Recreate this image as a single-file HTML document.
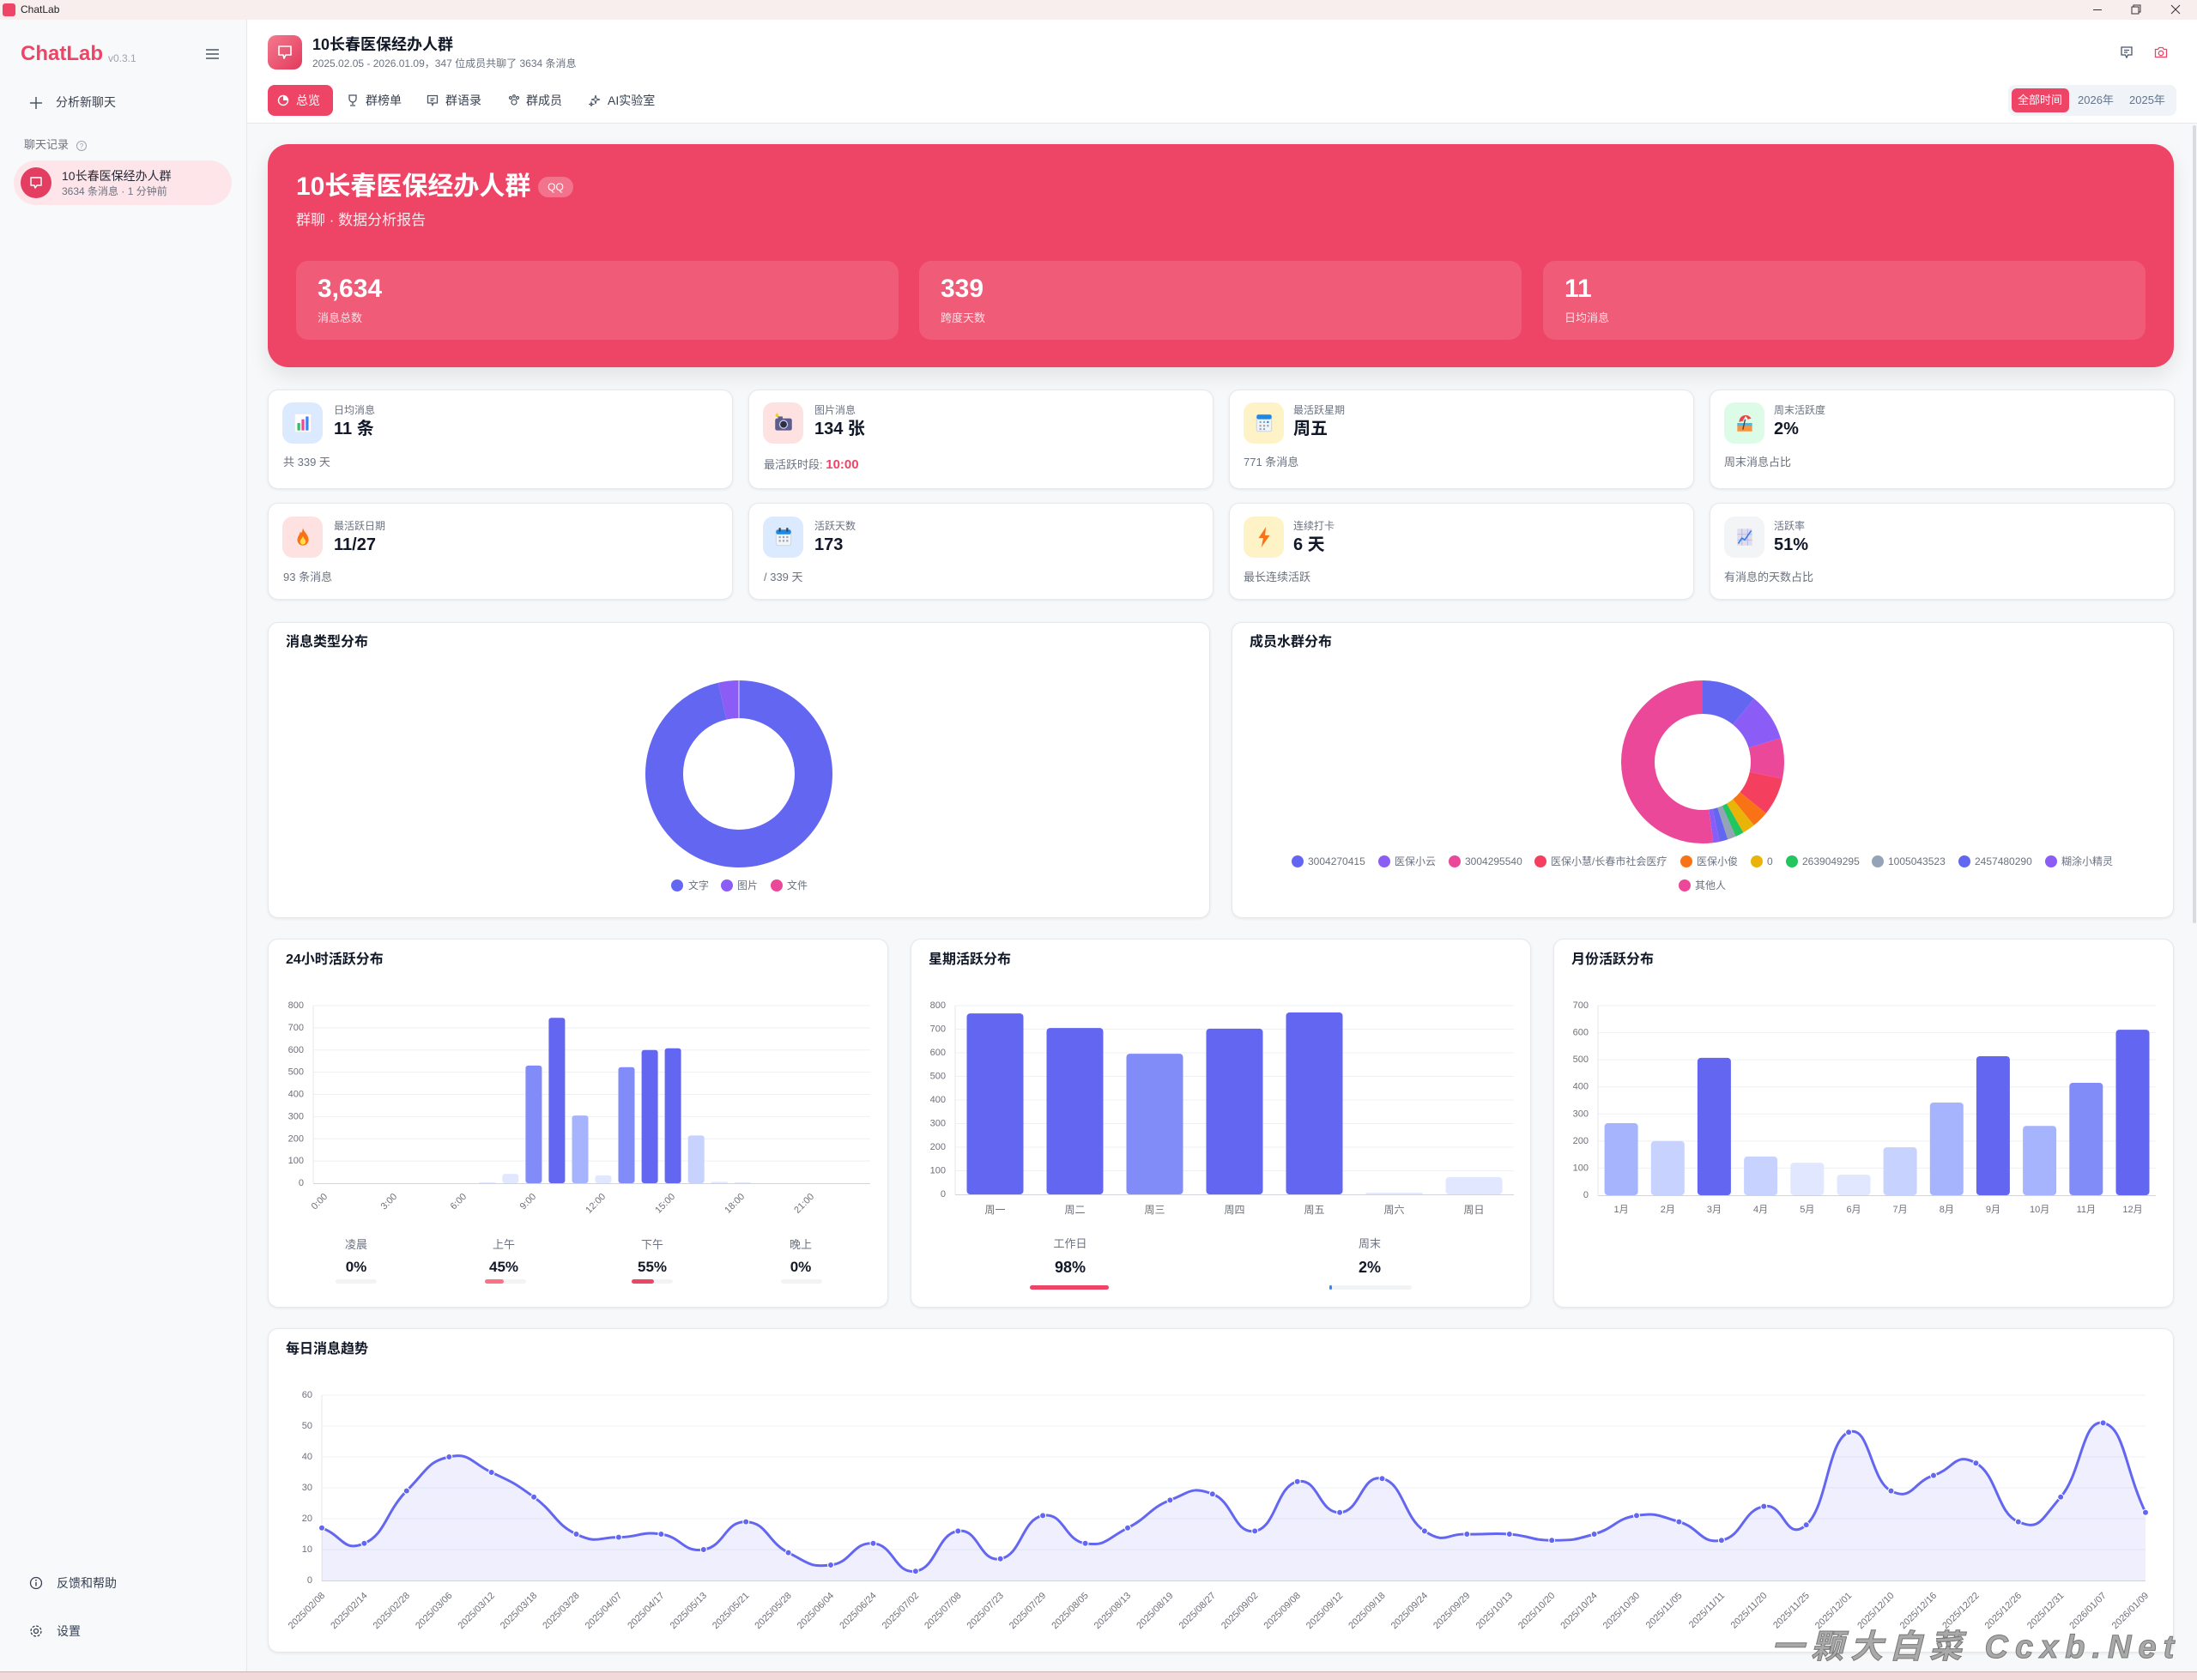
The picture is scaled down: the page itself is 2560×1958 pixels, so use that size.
<!DOCTYPE html>
<html><head><meta charset="utf-8">
<style>
*{margin:0;padding:0;box-sizing:border-box}
body{width:2560px;height:1958px;position:relative;overflow:hidden;background:#f7f8fa;font-family:"Liberation Sans","Noto Sans CJK SC",sans-serif;color:#111827}
.a{position:absolute;white-space:nowrap;line-height:1}
.card{position:absolute;background:#fff;border:1px solid #e6e8eb;border-radius:12px;box-shadow:0 1px 3px rgba(0,0,0,.07)}
.ib{position:absolute;width:47px;height:48px;border-radius:12px;display:flex;align-items:center;justify-content:center}
.lbl{font-size:12px;color:#6b7280}
.val{font-size:20px;font-weight:700;color:#111827}
.sub{font-size:13px;color:#6b7280}
.ct{font-size:16px;font-weight:700;color:#111827}
svg text{font-family:"Liberation Sans","Noto Sans CJK SC",sans-serif}
</style></head><body>

<!-- title bar -->
<div class="a" style="left:0;top:0;width:2560px;height:23px;background:#f8eeee"></div>
<div class="a" style="left:3px;top:4px;width:15px;height:15px;border-radius:3px;background:#ee4566"></div>
<div class="a" style="left:24px;top:5px;font-size:12px;color:#222">ChatLab</div>
<svg class="a" style="left:2420px;top:0" width="140" height="23">
<line x1="19" y1="11.5" x2="29" y2="11.5" stroke="#333" stroke-width="1"/>
<rect x="64" y="8" width="8" height="8" fill="none" stroke="#333" stroke-width="1"/>
<path d="M66,8 V6 H74 V14 H72" fill="none" stroke="#333" stroke-width="1"/>
<path d="M110,6 L120,16 M120,6 L110,16" stroke="#333" stroke-width="1"/>
</svg>

<!-- sidebar -->
<div class="a" style="left:0;top:23px;width:288px;height:1925px;background:#f8f9fb;border-right:1px solid #e8e9ec"></div>
<div class="a" style="left:24px;top:51px;font-size:24px;font-weight:700;color:#ee4566">ChatLab</div>
<div class="a" style="left:126px;top:62px;font-size:12px;color:#9ca3af">v0.3.1</div>
<svg class="a" style="left:238px;top:55px" width="20" height="16"><path d="M2,3H17M2,8H17M2,13H17" stroke="#4b5563" stroke-width="1.6"/></svg>
<svg class="a" style="left:34px;top:112px" width="16" height="16"><path d="M8,1V15M1,8H15" stroke="#4b5563" stroke-width="1.5"/></svg>
<div class="a" style="left:65px;top:112px;font-size:14px;color:#374151">分析新聊天</div>
<div class="a" style="left:28px;top:162px;font-size:13px;color:#6b7280">聊天记录</div>
<svg class="a" style="left:88px;top:163px" width="14" height="14"><circle cx="7" cy="7" r="5.5" fill="none" stroke="#9ca3af" stroke-width="1"/><text x="7" y="10" font-size="8" text-anchor="middle" fill="#9ca3af">?</text></svg>
<div class="a" style="left:16px;top:187px;width:254px;height:52px;border-radius:26px;background:#fde5e9"></div>
<div class="a" style="left:24px;top:195px;width:36px;height:36px;border-radius:50%;background:#e33d62"></div>
<svg class="a" style="left:33px;top:204px" width="18" height="18"><path d="M3,3H15V12H10L8,15L7,12H3Z" fill="none" stroke="#fff" stroke-width="1.5" stroke-linejoin="round"/></svg>
<div class="a" style="left:72px;top:198px;font-size:14px;color:#1f2937">10长春医保经办人群</div>
<div class="a" style="left:72px;top:217px;font-size:12px;color:#6b7280">3634 条消息 · 1 分钟前</div>
<svg class="a" style="left:34px;top:1837px" width="16" height="16"><circle cx="8" cy="8" r="6.5" fill="none" stroke="#374151" stroke-width="1.3"/><path d="M8,7V11.5" stroke="#374151" stroke-width="1.4"/><circle cx="8" cy="4.8" r="0.9" fill="#374151"/></svg>
<div class="a" style="left:66px;top:1838px;font-size:14px;color:#374151">反馈和帮助</div>
<svg class="a" style="left:34px;top:1893px" width="16" height="16"><circle cx="8" cy="8" r="2.5" fill="none" stroke="#374151" stroke-width="1.3"/><circle cx="8" cy="8" r="6" fill="none" stroke="#374151" stroke-width="1.3" stroke-dasharray="3 1.7"/></svg>
<div class="a" style="left:66px;top:1894px;font-size:14px;color:#374151">设置</div>

<!-- header -->
<div class="a" style="left:288px;top:23px;width:2272px;height:121px;background:#fff;border-bottom:1px solid #e5e7eb"></div>
<div class="a" style="left:312px;top:41px;width:40px;height:40px;border-radius:10px;background:linear-gradient(135deg,#f47a8f,#e23a5c)"></div>
<svg class="a" style="left:322px;top:51px" width="20" height="20"><path d="M3,3H17V13H11L9,17L8,13H3Z" fill="none" stroke="#fff" stroke-width="1.6" stroke-linejoin="round"/></svg>
<div class="a" style="left:364px;top:43px;font-size:18px;font-weight:700;color:#111827">10长春医保经办人群</div>
<div class="a" style="left:364px;top:68px;font-size:12px;color:#6b7280">2025.02.05 - 2026.01.09，347 位成员共聊了 3634 条消息</div>
<div class="a" style="left:312px;top:99px;width:76px;height:36px;border-radius:8px;background:#ee4566"></div>
<svg class="a" style="left:323px;top:110px" width="14" height="14"><circle cx="7" cy="7" r="5.5" fill="none" stroke="#fff" stroke-width="1.4"/><path d="M7,7V1.5A5.5,5.5 0 0 1 12.5,7Z" fill="#fff"/></svg>
<div class="a" style="left:345px;top:110px;font-size:14px;color:#fff">总览</div>
<svg class="a" style="left:404px;top:110px" width="14" height="14"><path d="M3,1H11V5A4,4 0 0 1 3,5Z M7,9V12 M4,13H10" fill="none" stroke="#4b5563" stroke-width="1.3"/></svg>
<div class="a" style="left:426px;top:110px;font-size:14px;color:#374151">群榜单</div>
<svg class="a" style="left:497px;top:110px" width="14" height="14"><path d="M1.5,1.5H12.5V10H8L7,12.5L6,10H1.5Z M4.5,5H9.5 M4.5,7.3H8" fill="none" stroke="#4b5563" stroke-width="1.3"/></svg>
<div class="a" style="left:519px;top:110px;font-size:14px;color:#374151">群语录</div>
<svg class="a" style="left:592px;top:110px" width="14" height="14"><circle cx="7" cy="9" r="3" fill="none" stroke="#4b5563" stroke-width="1.2"/><circle cx="3" cy="4" r="1.5" fill="none" stroke="#4b5563" stroke-width="1.2"/><circle cx="11" cy="4" r="1.5" fill="none" stroke="#4b5563" stroke-width="1.2"/><circle cx="7" cy="2" r="1.3" fill="none" stroke="#4b5563" stroke-width="1.2"/></svg>
<div class="a" style="left:613px;top:110px;font-size:14px;color:#374151">群成员</div>
<svg class="a" style="left:686px;top:110px" width="14" height="14"><path d="M8,1L9,5L13,6L9,7L8,11L7,7L3,6L7,5Z M3,9L3.6,11L5.5,11.5L3.6,12L3,14L2.4,12L0.5,11.5L2.4,11Z" fill="none" stroke="#4b5563" stroke-width="1"/></svg>
<div class="a" style="left:708px;top:110px;font-size:14px;color:#374151">AI实验室</div>
<svg class="a" style="left:2470px;top:53px" width="16" height="16"><path d="M2,2H14V11H9.5L8,14L6.5,11H2Z M5,5.5H11 M5,8H9" fill="none" stroke="#475569" stroke-width="1.3"/></svg>
<svg class="a" style="left:2510px;top:53px" width="16" height="16"><path d="M1.5,4.5H4.5L6,2.5H10L11.5,4.5H14.5V13.5H1.5Z" fill="none" stroke="#ee4566" stroke-width="1.3"/><circle cx="8" cy="9" r="2.7" fill="none" stroke="#ee4566" stroke-width="1.3"/></svg>
<div class="a" style="left:2340px;top:99px;width:196px;height:36px;border-radius:8px;background:#f0f3f8"></div>
<div class="a" style="left:2344px;top:103px;width:67px;height:28px;border-radius:6px;background:#ee4566"></div>
<div class="a" style="left:2351px;top:110px;font-size:13px;color:#fff">全部时间</div>
<div class="a" style="left:2421px;top:110px;font-size:13px;color:#64748b">2026年</div>
<div class="a" style="left:2481px;top:110px;font-size:13px;color:#64748b">2025年</div>
<div class="a" style="left:2555px;top:146px;width:4px;height:930px;border-radius:2px;background:#d9dbdf"></div>

<!-- banner -->
<div class="a" style="left:312px;top:168px;width:2221px;height:260px;border-radius:24px;background:#ee4566;box-shadow:0 10px 24px rgba(0,0,0,.09)"></div>
<div class="a" style="left:345px;top:203px;font-size:30px;font-weight:700;color:#fff">10长春医保经办人群</div>
<div class="a" style="left:627px;top:206px;width:41px;height:24px;border-radius:12px;background:rgba(255,255,255,.25);color:#fff;font-size:12px;line-height:24px;text-align:center">QQ</div>
<div class="a" style="left:345px;top:248px;font-size:17px;color:rgba(255,255,255,.88)">群聊 · 数据分析报告</div>
<div class="a" style="left:345px;top:304px;width:702px;height:92px;border-radius:14px;background:rgba(255,255,255,.12)"></div>
<div class="a" style="left:1071px;top:304px;width:702px;height:92px;border-radius:14px;background:rgba(255,255,255,.12)"></div>
<div class="a" style="left:1798px;top:304px;width:702px;height:92px;border-radius:14px;background:rgba(255,255,255,.12)"></div>
<div class="a" style="left:370px;top:322px;font-size:30px;font-weight:700;color:#fff">3,634</div>
<div class="a" style="left:370px;top:364px;font-size:13px;color:rgba(255,255,255,.82)">消息总数</div>
<div class="a" style="left:1096px;top:322px;font-size:30px;font-weight:700;color:#fff">339</div>
<div class="a" style="left:1096px;top:364px;font-size:13px;color:rgba(255,255,255,.82)">跨度天数</div>
<div class="a" style="left:1823px;top:322px;font-size:30px;font-weight:700;color:#fff">11</div>
<div class="a" style="left:1823px;top:364px;font-size:13px;color:rgba(255,255,255,.82)">日均消息</div>

<!-- stat cards -->
<div class="card" style="left:312px;top:454px;width:542px;height:116px"></div>
<div class="card" style="left:872px;top:454px;width:542px;height:116px"></div>
<div class="card" style="left:1432px;top:454px;width:542px;height:116px"></div>
<div class="card" style="left:1992px;top:454px;width:542px;height:116px"></div>
<div class="card" style="left:312px;top:586px;width:542px;height:113px"></div>
<div class="card" style="left:872px;top:586px;width:542px;height:113px"></div>
<div class="card" style="left:1432px;top:586px;width:542px;height:113px"></div>
<div class="card" style="left:1992px;top:586px;width:542px;height:113px"></div>

<div class="ib" style="left:329px;top:469px;background:#dbeafe"><svg width="26" height="26" viewBox="0 0 24 24"><rect x="3" y="2" width="18" height="20" rx="2" fill="#fff" stroke="#e5e7eb"/><rect x="6" y="12" width="3" height="8" fill="#22c55e"/><rect x="10.5" y="8" width="3" height="12" fill="#ec4899"/><rect x="15" y="5" width="3" height="15" fill="#3b82f6"/></svg></div>
<div class="a lbl" style="left:389px;top:472px">日均消息</div>
<div class="a val" style="left:389px;top:490px">11 条</div>
<div class="a sub" style="left:330px;top:532px">共 339 天</div>

<div class="ib" style="left:889px;top:469px;background:#fee2e2"><svg width="26" height="26" viewBox="0 0 24 24"><rect x="3" y="7" width="18" height="13" rx="2" fill="#5c5c8e"/><rect x="6" y="5" width="5" height="3" fill="#5c5c8e"/><circle cx="12" cy="13.5" r="4.2" fill="#2d2d44" stroke="#c9c9e0" stroke-width="1.2"/><path d="M5,1L7,4L5,6L3,4Z" fill="#facc15"/></svg></div>
<div class="a lbl" style="left:949px;top:472px">图片消息</div>
<div class="a val" style="left:949px;top:490px">134 张</div>
<div class="a sub" style="left:890px;top:534px">最活跃时段: <span style="color:#ee4566;font-weight:700;font-size:15px">10:00</span></div>

<div class="ib" style="left:1449px;top:469px;background:#fef3c7"><svg width="26" height="26" viewBox="0 0 24 24"><rect x="4" y="3" width="16" height="18" rx="2" fill="#f3f4f6" stroke="#cbd5e1"/><rect x="4" y="3" width="16" height="5" rx="2" fill="#1e88e5"/><g fill="#94a3b8"><rect x="7" y="10" width="2" height="2"/><rect x="11" y="10" width="2" height="2"/><rect x="15" y="10" width="2" height="2" fill="#1e88e5"/><rect x="7" y="14" width="2" height="2"/><rect x="11" y="14" width="2" height="2"/><rect x="15" y="14" width="2" height="2"/><rect x="7" y="17.5" width="2" height="2"/><rect x="11" y="17.5" width="2" height="2"/></g></svg></div>
<div class="a lbl" style="left:1507px;top:472px">最活跃星期</div>
<div class="a val" style="left:1507px;top:490px">周五</div>
<div class="a sub" style="left:1449px;top:532px">771 条消息</div>

<div class="ib" style="left:2009px;top:469px;background:#dcfce7"><svg width="26" height="26" viewBox="0 0 24 24"><rect x="4" y="14" width="16" height="7" fill="#fb923c"/><rect x="4" y="12" width="16" height="3" fill="#38bdf8"/><path d="M6,11A7,7 0 0 1 19,7Z" fill="#ef4444"/><path d="M10,9.5L13,4.5L15.5,8Z" fill="#fff"/><path d="M12.5,8L10,19" stroke="#374151" stroke-width="1.2"/></svg></div>
<div class="a lbl" style="left:2067px;top:472px">周末活跃度</div>
<div class="a val" style="left:2067px;top:490px">2%</div>
<div class="a sub" style="left:2009px;top:532px">周末消息占比</div>

<div class="ib" style="left:329px;top:602px;background:#fee2e2"><svg width="26" height="26" viewBox="0 0 24 24"><path d="M12,2C13,7 18,9 18,15A6,6 0 0 1 6,15C6,11 9,9 9,6C10,8 11,8 12,2Z" fill="#f97316"/><path d="M12,11C13,14 15,15 15,17A3,3 0 0 1 9,17C9,15 11,14 12,11Z" fill="#fde047"/></svg></div>
<div class="a lbl" style="left:389px;top:607px">最活跃日期</div>
<div class="a val" style="left:389px;top:625px">11/27</div>
<div class="a sub" style="left:330px;top:666px">93 条消息</div>

<div class="ib" style="left:889px;top:602px;background:#dbeafe"><svg width="26" height="26" viewBox="0 0 24 24"><rect x="4" y="4" width="16" height="17" rx="2" fill="#f3f4f6" stroke="#cbd5e1"/><rect x="4" y="4" width="16" height="5" rx="2" fill="#1e88e5"/><rect x="7" y="2" width="2" height="4" fill="#374151"/><rect x="15" y="2" width="2" height="4" fill="#374151"/><g fill="#94a3b8"><rect x="7" y="11" width="2" height="2"/><rect x="11" y="11" width="2" height="2"/><rect x="15" y="11" width="2" height="2"/><rect x="7" y="15" width="2" height="2"/><rect x="11" y="15" width="2" height="2"/><rect x="15" y="15" width="2" height="2"/></g></svg></div>
<div class="a lbl" style="left:949px;top:607px">活跃天数</div>
<div class="a val" style="left:949px;top:625px">173</div>
<div class="a sub" style="left:890px;top:666px">/ 339 天</div>

<div class="ib" style="left:1449px;top:602px;background:#fef3c7"><svg width="26" height="26" viewBox="0 0 24 24"><path d="M14,1L6,13H11L9,23L18,10H13Z" fill="#f97316"/></svg></div>
<div class="a lbl" style="left:1507px;top:607px">连续打卡</div>
<div class="a val" style="left:1507px;top:625px">6 天</div>
<div class="a sub" style="left:1449px;top:666px">最长连续活跃</div>

<div class="ib" style="left:2009px;top:602px;background:#f3f4f6"><svg width="26" height="26" viewBox="0 0 24 24"><rect x="4" y="3" width="16" height="18" fill="#e0dcf0"/><path d="M4,9H20M4,15H20M9,3V21M15,3V21" stroke="#b8b0d8" stroke-width="0.8"/><path d="M5,19L9,13L12,15L19,5" fill="none" stroke="#2f80ed" stroke-width="1.5"/></svg></div>
<div class="a lbl" style="left:2067px;top:607px">活跃率</div>
<div class="a val" style="left:2067px;top:625px">51%</div>
<div class="a sub" style="left:2009px;top:666px">有消息的天数占比</div>

<!-- chart cards -->
<div class="card" style="left:312px;top:725px;width:1098px;height:345px"></div>
<div class="card" style="left:1435px;top:725px;width:1098px;height:345px"></div>
<div class="a ct" style="left:333px;top:741px">消息类型分布</div>
<div class="a ct" style="left:1456px;top:741px">成员水群分布</div>

<div class="card" style="left:312px;top:1094px;width:723px;height:430px"></div>
<div class="card" style="left:1061px;top:1094px;width:723px;height:430px"></div>
<div class="card" style="left:1810px;top:1094px;width:723px;height:430px"></div>
<div class="a ct" style="left:333px;top:1111px">24小时活跃分布</div>
<div class="a ct" style="left:1082px;top:1111px">星期活跃分布</div>
<div class="a ct" style="left:1831px;top:1111px">月份活跃分布</div>

<div class="card" style="left:312px;top:1548px;width:2221px;height:378px"></div>
<div class="a ct" style="left:333px;top:1565px">每日消息趋势</div>

<!-- 24h bottom stats -->
<div class="a" style="left:375px;top:1444px;width:80px;text-align:center;font-size:13px;color:#6b7280">凌晨</div>
<div class="a" style="left:375px;top:1468px;width:80px;text-align:center;font-size:17px;font-weight:700">0%</div>
<div class="a" style="left:391px;top:1491px;width:48px;height:5px;border-radius:3px;background:#f1f3f5"></div>
<div class="a" style="left:547px;top:1444px;width:80px;text-align:center;font-size:13px;color:#6b7280">上午</div>
<div class="a" style="left:547px;top:1468px;width:80px;text-align:center;font-size:17px;font-weight:700">45%</div>
<div class="a" style="left:565px;top:1491px;width:48px;height:5px;border-radius:3px;background:#f1f3f5"><div style="width:22px;height:5px;border-radius:3px;background:#fb7185"></div></div>
<div class="a" style="left:720px;top:1444px;width:80px;text-align:center;font-size:13px;color:#6b7280">下午</div>
<div class="a" style="left:720px;top:1468px;width:80px;text-align:center;font-size:17px;font-weight:700">55%</div>
<div class="a" style="left:736px;top:1491px;width:48px;height:5px;border-radius:3px;background:#f1f3f5"><div style="width:26px;height:5px;border-radius:3px;background:#ee4566"></div></div>
<div class="a" style="left:893px;top:1444px;width:80px;text-align:center;font-size:13px;color:#6b7280">晚上</div>
<div class="a" style="left:893px;top:1468px;width:80px;text-align:center;font-size:17px;font-weight:700">0%</div>
<div class="a" style="left:910px;top:1491px;width:48px;height:5px;border-radius:3px;background:#f1f3f5"></div>

<!-- weekday bottom stats -->
<div class="a" style="left:1197px;top:1443px;width:100px;text-align:center;font-size:13px;color:#6b7280">工作日</div>
<div class="a" style="left:1197px;top:1468px;width:100px;text-align:center;font-size:18px;font-weight:700">98%</div>
<div class="a" style="left:1200px;top:1498px;width:94px;height:5px;border-radius:3px;background:#f1f3f5"><div style="width:92px;height:5px;border-radius:3px;background:#ee4566"></div></div>
<div class="a" style="left:1546px;top:1443px;width:100px;text-align:center;font-size:13px;color:#6b7280">周末</div>
<div class="a" style="left:1546px;top:1468px;width:100px;text-align:center;font-size:18px;font-weight:700">2%</div>
<div class="a" style="left:1549px;top:1498px;width:96px;height:5px;border-radius:3px;background:#f1f3f5"><div style="width:3px;height:5px;border-radius:2px;background:#3b82f6"></div></div>

<!-- charts overlay -->
<svg class="a" style="left:0;top:0" width="2560" height="1958">
<g transform="translate(861,902) rotate(-90)">
<circle r="87" fill="none" stroke="#6366f1" stroke-width="44" stroke-dasharray="526.9 546.6"/>
<circle r="87" fill="none" stroke="#8b5cf6" stroke-width="44" stroke-dasharray="19.7 546.6" stroke-dashoffset="-526.9"/>
</g>
<line x1="861" y1="793" x2="861" y2="837" stroke="#fff" stroke-width="0.8"/>
<g font-size="12" fill="#6b7280" dominant-baseline="central">
<circle cx="789" cy="1032" r="7" fill="#6366f1"/><text x="802" y="1032">文字</text>
<circle cx="847" cy="1032" r="7" fill="#8b5cf6"/><text x="859" y="1032">图片</text>
<circle cx="905" cy="1032" r="7" fill="#ec4899"/><text x="917" y="1032">文件</text>
</g>

<g transform="translate(1984,888) rotate(-90)" fill="none" stroke-width="39">
<circle r="75.5" stroke="#6366f1" stroke-dasharray="51.39 474.38"/>
<circle r="75.5" stroke="#8b5cf6" stroke-dasharray="44.8 474.38" stroke-dashoffset="-51.39"/>
<circle r="75.5" stroke="#ec4899" stroke-dasharray="38.21 474.38" stroke-dashoffset="-96.19"/>
<circle r="75.5" stroke="#f43f5e" stroke-dasharray="35.58 474.38" stroke-dashoffset="-134.41"/>
<circle r="75.5" stroke="#f97316" stroke-dasharray="15.81 474.38" stroke-dashoffset="-169.99"/>
<circle r="75.5" stroke="#eab308" stroke-dasharray="11.86 474.38" stroke-dashoffset="-185.8"/>
<circle r="75.5" stroke="#22c55e" stroke-dasharray="7.91 474.38" stroke-dashoffset="-197.66"/>
<circle r="75.5" stroke="#94a3b8" stroke-dasharray="7.91 474.38" stroke-dashoffset="-205.56"/>
<circle r="75.5" stroke="#6366f1" stroke-dasharray="7.91 474.38" stroke-dashoffset="-213.47"/>
<circle r="75.5" stroke="#8b5cf6" stroke-dasharray="5.93 474.38" stroke-dashoffset="-221.38"/>
<circle r="75.5" stroke="#ec4899" stroke-dasharray="247.07 474.38" stroke-dashoffset="-227.31"/>
</g>
<g font-size="12" fill="#6b7280" dominant-baseline="central">
<circle cx="1512" cy="1004" r="7" fill="#6366f1"/><text x="1524" y="1004">3004270415</text>
<circle cx="1613" cy="1004" r="7" fill="#8b5cf6"/><text x="1625" y="1004">医保小云</text>
<circle cx="1695" cy="1004" r="7" fill="#ec4899"/><text x="1707" y="1004">3004295540</text>
<circle cx="1795" cy="1004" r="7" fill="#f43f5e"/><text x="1807" y="1004">医保小慧/长春市社会医疗</text>
<circle cx="1965" cy="1004" r="7" fill="#f97316"/><text x="1977" y="1004">医保小俊</text>
<circle cx="2047" cy="1004" r="7" fill="#eab308"/><text x="2059" y="1004">0</text>
<circle cx="2088" cy="1004" r="7" fill="#22c55e"/><text x="2100" y="1004">2639049295</text>
<circle cx="2188" cy="1004" r="7" fill="#94a3b8"/><text x="2200" y="1004">1005043523</text>
<circle cx="2289" cy="1004" r="7" fill="#6366f1"/><text x="2301" y="1004">2457480290</text>
<circle cx="2390" cy="1004" r="7" fill="#8b5cf6"/><text x="2402" y="1004">糊涂小精灵</text>
<circle cx="1963" cy="1032" r="7" fill="#ec4899"/><text x="1975" y="1032">其他人</text>
</g>

<!-- 24h chart -->
<g stroke="#eef0f3" stroke-width="1">
<line x1="365" y1="1172" x2="1014" y2="1172"/><line x1="365" y1="1197.9" x2="1014" y2="1197.9"/><line x1="365" y1="1223.8" x2="1014" y2="1223.8"/><line x1="365" y1="1249.6" x2="1014" y2="1249.6"/><line x1="365" y1="1275.5" x2="1014" y2="1275.5"/><line x1="365" y1="1301.4" x2="1014" y2="1301.4"/><line x1="365" y1="1327.3" x2="1014" y2="1327.3"/><line x1="365" y1="1353.1" x2="1014" y2="1353.1"/>
<line x1="365" y1="1172" x2="365" y2="1379" stroke="#e5e7eb"/>
</g>
<line x1="365" y1="1379.5" x2="1014" y2="1379.5" stroke="#d1d5db"/>
<g font-size="11" fill="#6e7079" text-anchor="end" dominant-baseline="central">
<text x="354" y="1172">800</text><text x="354" y="1197.9">700</text><text x="354" y="1223.8">600</text><text x="354" y="1249.6">500</text><text x="354" y="1275.5">400</text><text x="354" y="1301.4">300</text><text x="354" y="1327.3">200</text><text x="354" y="1353.1">100</text><text x="354" y="1379">0</text>
</g>
<g>
<rect x="558.3" y="1378" width="19" height="1" fill="#e0e7ff"/>
<rect x="585.3" y="1368.1" width="19" height="10.9" rx="3" fill="#e0e7ff"/>
<rect x="612.4" y="1241.9" width="19" height="137.1" rx="3" fill="#818cf8"/>
<rect x="639.4" y="1186.2" width="19" height="192.8" rx="3" fill="#6366f1"/>
<rect x="666.5" y="1300.1" width="19" height="78.9" rx="3" fill="#a5b4fc"/>
<rect x="693.5" y="1369.9" width="19" height="9.1" rx="3" fill="#e0e7ff"/>
<rect x="720.5" y="1243.7" width="19" height="135.3" rx="3" fill="#818cf8"/>
<rect x="747.6" y="1223.7" width="19" height="155.3" rx="3" fill="#6366f1"/>
<rect x="774.6" y="1221.7" width="19" height="157.3" rx="3" fill="#6366f1"/>
<rect x="801.7" y="1323.4" width="19" height="55.6" rx="3" fill="#c7d2fe"/>
<rect x="828.7" y="1377.5" width="19" height="1.5" fill="#e0e7ff"/>
<rect x="855.7" y="1378" width="19" height="1" fill="#e0e7ff"/>
</g>
<g font-size="11" fill="#6e7079" text-anchor="end" dominant-baseline="central">
<text transform="translate(380,1393) rotate(-45)">0:00</text>
<text transform="translate(461,1393) rotate(-45)">3:00</text>
<text transform="translate(542,1393) rotate(-45)">6:00</text>
<text transform="translate(623,1393) rotate(-45)">9:00</text>
<text transform="translate(704,1393) rotate(-45)">12:00</text>
<text transform="translate(785,1393) rotate(-45)">15:00</text>
<text transform="translate(866,1393) rotate(-45)">18:00</text>
<text transform="translate(947,1393) rotate(-45)">21:00</text>
</g>

<!-- weekday chart -->
<g stroke="#eef0f3" stroke-width="1">
<line x1="1113" y1="1172" x2="1764" y2="1172"/><line x1="1113" y1="1199.5" x2="1764" y2="1199.5"/><line x1="1113" y1="1227" x2="1764" y2="1227"/><line x1="1113" y1="1254.5" x2="1764" y2="1254.5"/><line x1="1113" y1="1282" x2="1764" y2="1282"/><line x1="1113" y1="1309.5" x2="1764" y2="1309.5"/><line x1="1113" y1="1337" x2="1764" y2="1337"/><line x1="1113" y1="1364.5" x2="1764" y2="1364.5"/>
<line x1="1113" y1="1172" x2="1113" y2="1392" stroke="#e5e7eb"/>
</g>
<line x1="1113" y1="1392.5" x2="1764" y2="1392.5" stroke="#d1d5db"/>
<g font-size="11" fill="#6e7079" text-anchor="end" dominant-baseline="central">
<text x="1102" y="1172">800</text><text x="1102" y="1199.5">700</text><text x="1102" y="1227">600</text><text x="1102" y="1254.5">500</text><text x="1102" y="1282">400</text><text x="1102" y="1309.5">300</text><text x="1102" y="1337">200</text><text x="1102" y="1364.5">100</text><text x="1102" y="1392">0</text>
</g>
<g>
<rect x="1126.5" y="1181.1" width="66" height="210.9" rx="4" fill="#6366f1"/>
<rect x="1219.5" y="1198.1" width="66" height="193.9" rx="4" fill="#6366f1"/>
<rect x="1312.5" y="1228.1" width="66" height="163.9" rx="4" fill="#818cf8"/>
<rect x="1405.5" y="1198.9" width="66" height="193.1" rx="4" fill="#6366f1"/>
<rect x="1498.5" y="1180" width="66" height="212" rx="4" fill="#6366f1"/>
<rect x="1591.5" y="1390.2" width="66" height="1.8" fill="#e0e7ff"/>
<rect x="1684.5" y="1371.9" width="66" height="20.1" rx="4" fill="#e0e7ff"/>
</g>
<g font-size="12" fill="#6e7079" text-anchor="middle" dominant-baseline="central">
<text x="1159.5" y="1410">周一</text><text x="1252.5" y="1410">周二</text><text x="1345.5" y="1410">周三</text><text x="1438.5" y="1410">周四</text><text x="1531.5" y="1410">周五</text><text x="1624.5" y="1410">周六</text><text x="1717.5" y="1410">周日</text>
</g>

<!-- month chart -->
<g stroke="#eef0f3" stroke-width="1">
<line x1="1862" y1="1172" x2="2512" y2="1172"/><line x1="1862" y1="1203.6" x2="2512" y2="1203.6"/><line x1="1862" y1="1235.1" x2="2512" y2="1235.1"/><line x1="1862" y1="1266.7" x2="2512" y2="1266.7"/><line x1="1862" y1="1298.3" x2="2512" y2="1298.3"/><line x1="1862" y1="1329.9" x2="2512" y2="1329.9"/><line x1="1862" y1="1361.4" x2="2512" y2="1361.4"/>
<line x1="1862" y1="1172" x2="1862" y2="1393" stroke="#e5e7eb"/>
</g>
<line x1="1862" y1="1393.5" x2="2512" y2="1393.5" stroke="#d1d5db"/>
<g font-size="11" fill="#6e7079" text-anchor="end" dominant-baseline="central">
<text x="1851" y="1172">700</text><text x="1851" y="1203.6">600</text><text x="1851" y="1235.1">500</text><text x="1851" y="1266.7">400</text><text x="1851" y="1298.3">300</text><text x="1851" y="1329.9">200</text><text x="1851" y="1361.4">100</text><text x="1851" y="1393">0</text>
</g>
<g>
<rect x="1869.6" y="1309" width="39" height="84" rx="4" fill="#a5b4fc"/>
<rect x="1923.8" y="1329.9" width="39" height="63.1" rx="4" fill="#c7d2fe"/>
<rect x="1977.9" y="1232.9" width="39" height="160.1" rx="4" fill="#6366f1"/>
<rect x="2032.1" y="1347.9" width="39" height="45.1" rx="4" fill="#c7d2fe"/>
<rect x="2086.3" y="1355.1" width="39" height="37.9" rx="4" fill="#e0e7ff"/>
<rect x="2140.5" y="1369" width="39" height="24" rx="4" fill="#e0e7ff"/>
<rect x="2194.6" y="1337.1" width="39" height="55.9" rx="4" fill="#c7d2fe"/>
<rect x="2248.8" y="1285" width="39" height="108" rx="4" fill="#a5b4fc"/>
<rect x="2302.9" y="1231" width="39" height="162" rx="4" fill="#6366f1"/>
<rect x="2357.1" y="1312.2" width="39" height="80.8" rx="4" fill="#a5b4fc"/>
<rect x="2411.3" y="1262" width="39" height="131" rx="4" fill="#818cf8"/>
<rect x="2465.5" y="1200.1" width="39" height="192.9" rx="4" fill="#6366f1"/>
</g>
<g font-size="11" fill="#6e7079" text-anchor="middle" dominant-baseline="central">
<text x="1889.1" y="1410">1月</text><text x="1943.3" y="1410">2月</text><text x="1997.4" y="1410">3月</text><text x="2051.6" y="1410">4月</text><text x="2105.8" y="1410">5月</text><text x="2160" y="1410">6月</text><text x="2214.1" y="1410">7月</text><text x="2268.3" y="1410">8月</text><text x="2322.4" y="1410">9月</text><text x="2376.6" y="1410">10月</text><text x="2430.8" y="1410">11月</text><text x="2485" y="1410">12月</text>
</g>

<!-- daily trend -->
<g stroke="#eef0f3" stroke-width="1">
<line x1="375" y1="1626" x2="2500" y2="1626"/><line x1="375" y1="1662" x2="2500" y2="1662"/><line x1="375" y1="1698" x2="2500" y2="1698"/><line x1="375" y1="1734" x2="2500" y2="1734"/><line x1="375" y1="1770" x2="2500" y2="1770"/><line x1="375" y1="1806" x2="2500" y2="1806"/>
<line x1="375" y1="1626" x2="375" y2="1842" stroke="#e5e7eb"/>
</g>
<g font-size="11" fill="#6e7079" text-anchor="end" dominant-baseline="central">
<text x="364" y="1626">60</text><text x="364" y="1662">50</text><text x="364" y="1698">40</text><text x="364" y="1734">30</text><text x="364" y="1770">20</text><text x="364" y="1806">10</text><text x="364" y="1842">0</text>
</g>
<path fill="rgba(99,102,241,0.1)" d="M375,1780.8 C399.7,1789.8 399.7,1809.6 424.4,1798.8 C449.1,1788 449.1,1762.8 473.8,1737.6 C498.6,1712.4 498.6,1703.4 523.3,1698 C548,1692.6 548,1704.3 572.7,1716 C597.4,1727.7 597.4,1726.8 622.1,1744.8 C646.8,1762.8 646.8,1776.3 671.5,1788 C696.2,1799.7 696.2,1791.6 720.9,1791.6 C745.7,1791.6 745.7,1784.4 770.4,1788 C795.1,1791.6 795.1,1809.6 819.8,1806 C844.5,1802.4 844.5,1772.7 869.2,1773.6 C893.9,1774.5 893.9,1797 918.6,1809.6 C943.3,1822.2 943.3,1826.7 968,1824 C992.8,1821.3 992.8,1797 1017.5,1798.8 C1042.2,1800.6 1042.2,1834.8 1066.9,1831.2 C1091.6,1827.6 1091.6,1788 1116.3,1784.4 C1141,1780.8 1141,1821.3 1165.7,1816.8 C1190.4,1812.3 1190.4,1770.9 1215.1,1766.4 C1239.9,1761.9 1239.9,1795.2 1264.6,1798.8 C1289.3,1802.4 1289.3,1793.4 1314,1780.8 C1338.7,1768.2 1338.7,1758.3 1363.4,1748.4 C1388.1,1738.5 1388.1,1732.2 1412.8,1741.2 C1437.5,1750.2 1437.5,1788 1462.2,1784.4 C1487,1780.8 1487,1732.2 1511.7,1726.8 C1536.4,1721.4 1536.4,1763.7 1561.1,1762.8 C1585.8,1761.9 1585.8,1717.8 1610.5,1723.2 C1635.2,1728.6 1635.2,1768.2 1659.9,1784.4 C1684.6,1800.6 1684.6,1787.1 1709.3,1788 C1734.1,1788.9 1734.1,1786.2 1758.8,1788 C1783.5,1789.8 1783.5,1795.2 1808.2,1795.2 C1832.9,1795.2 1832.9,1795.2 1857.6,1788 C1882.3,1780.8 1882.3,1770 1907,1766.4 C1931.7,1762.8 1931.7,1766.4 1956.4,1773.6 C1981.2,1780.8 1981.2,1799.7 2005.9,1795.2 C2030.6,1790.7 2030.6,1760.1 2055.3,1755.6 C2080,1751.1 2080,1798.8 2104.7,1777.2 C2129.4,1755.6 2129.4,1679.1 2154.1,1669.2 C2178.8,1659.3 2178.8,1725 2203.5,1737.6 C2228.3,1750.2 2228.3,1727.7 2253,1719.6 C2277.7,1711.5 2277.7,1691.7 2302.4,1705.2 C2327.1,1718.7 2327.1,1763.7 2351.8,1773.6 C2376.5,1783.5 2376.5,1773.6 2401.2,1744.8 C2425.9,1716 2425.9,1653.9 2450.6,1658.4 C2475.3,1662.9 2475.3,1710.6 2500,1762.8 L2500,1842 L375,1842 Z"/>
<line x1="375" y1="1842.5" x2="2500" y2="1842.5" stroke="#d1d5db"/>
<path fill="none" stroke="#6366f1" stroke-width="3" d="M375,1780.8 C399.7,1789.8 399.7,1809.6 424.4,1798.8 C449.1,1788 449.1,1762.8 473.8,1737.6 C498.6,1712.4 498.6,1703.4 523.3,1698 C548,1692.6 548,1704.3 572.7,1716 C597.4,1727.7 597.4,1726.8 622.1,1744.8 C646.8,1762.8 646.8,1776.3 671.5,1788 C696.2,1799.7 696.2,1791.6 720.9,1791.6 C745.7,1791.6 745.7,1784.4 770.4,1788 C795.1,1791.6 795.1,1809.6 819.8,1806 C844.5,1802.4 844.5,1772.7 869.2,1773.6 C893.9,1774.5 893.9,1797 918.6,1809.6 C943.3,1822.2 943.3,1826.7 968,1824 C992.8,1821.3 992.8,1797 1017.5,1798.8 C1042.2,1800.6 1042.2,1834.8 1066.9,1831.2 C1091.6,1827.6 1091.6,1788 1116.3,1784.4 C1141,1780.8 1141,1821.3 1165.7,1816.8 C1190.4,1812.3 1190.4,1770.9 1215.1,1766.4 C1239.9,1761.9 1239.9,1795.2 1264.6,1798.8 C1289.3,1802.4 1289.3,1793.4 1314,1780.8 C1338.7,1768.2 1338.7,1758.3 1363.4,1748.4 C1388.1,1738.5 1388.1,1732.2 1412.8,1741.2 C1437.5,1750.2 1437.5,1788 1462.2,1784.4 C1487,1780.8 1487,1732.2 1511.7,1726.8 C1536.4,1721.4 1536.4,1763.7 1561.1,1762.8 C1585.8,1761.9 1585.8,1717.8 1610.5,1723.2 C1635.2,1728.6 1635.2,1768.2 1659.9,1784.4 C1684.6,1800.6 1684.6,1787.1 1709.3,1788 C1734.1,1788.9 1734.1,1786.2 1758.8,1788 C1783.5,1789.8 1783.5,1795.2 1808.2,1795.2 C1832.9,1795.2 1832.9,1795.2 1857.6,1788 C1882.3,1780.8 1882.3,1770 1907,1766.4 C1931.7,1762.8 1931.7,1766.4 1956.4,1773.6 C1981.2,1780.8 1981.2,1799.7 2005.9,1795.2 C2030.6,1790.7 2030.6,1760.1 2055.3,1755.6 C2080,1751.1 2080,1798.8 2104.7,1777.2 C2129.4,1755.6 2129.4,1679.1 2154.1,1669.2 C2178.8,1659.3 2178.8,1725 2203.5,1737.6 C2228.3,1750.2 2228.3,1727.7 2253,1719.6 C2277.7,1711.5 2277.7,1691.7 2302.4,1705.2 C2327.1,1718.7 2327.1,1763.7 2351.8,1773.6 C2376.5,1783.5 2376.5,1773.6 2401.2,1744.8 C2425.9,1716 2425.9,1653.9 2450.6,1658.4 C2475.3,1662.9 2475.3,1710.6 2500,1762.8"/>
<g fill="#6366f1" stroke="#fff" stroke-width="1">
<circle cx="375" cy="1780.8" r="3.5"/><circle cx="424.4" cy="1798.8" r="3.5"/><circle cx="473.8" cy="1737.6" r="3.5"/><circle cx="523.3" cy="1698" r="3.5"/><circle cx="572.7" cy="1716" r="3.5"/><circle cx="622.1" cy="1744.8" r="3.5"/><circle cx="671.5" cy="1788" r="3.5"/><circle cx="720.9" cy="1791.6" r="3.5"/><circle cx="770.4" cy="1788" r="3.5"/><circle cx="819.8" cy="1806" r="3.5"/><circle cx="869.2" cy="1773.6" r="3.5"/><circle cx="918.6" cy="1809.6" r="3.5"/><circle cx="968" cy="1824" r="3.5"/><circle cx="1017.5" cy="1798.8" r="3.5"/><circle cx="1066.9" cy="1831.2" r="3.5"/><circle cx="1116.3" cy="1784.4" r="3.5"/><circle cx="1165.7" cy="1816.8" r="3.5"/><circle cx="1215.1" cy="1766.4" r="3.5"/><circle cx="1264.6" cy="1798.8" r="3.5"/><circle cx="1314" cy="1780.8" r="3.5"/><circle cx="1363.4" cy="1748.4" r="3.5"/><circle cx="1412.8" cy="1741.2" r="3.5"/><circle cx="1462.2" cy="1784.4" r="3.5"/><circle cx="1511.7" cy="1726.8" r="3.5"/><circle cx="1561.1" cy="1762.8" r="3.5"/><circle cx="1610.5" cy="1723.2" r="3.5"/><circle cx="1659.9" cy="1784.4" r="3.5"/><circle cx="1709.3" cy="1788" r="3.5"/><circle cx="1758.8" cy="1788" r="3.5"/><circle cx="1808.2" cy="1795.2" r="3.5"/><circle cx="1857.6" cy="1788" r="3.5"/><circle cx="1907" cy="1766.4" r="3.5"/><circle cx="1956.4" cy="1773.6" r="3.5"/><circle cx="2005.9" cy="1795.2" r="3.5"/><circle cx="2055.3" cy="1755.6" r="3.5"/><circle cx="2104.7" cy="1777.2" r="3.5"/><circle cx="2154.1" cy="1669.2" r="3.5"/><circle cx="2203.5" cy="1737.6" r="3.5"/><circle cx="2253" cy="1719.6" r="3.5"/><circle cx="2302.4" cy="1705.2" r="3.5"/><circle cx="2351.8" cy="1773.6" r="3.5"/><circle cx="2401.2" cy="1744.8" r="3.5"/><circle cx="2450.6" cy="1658.4" r="3.5"/><circle cx="2500" cy="1762.8" r="3.5"/>
</g>
<g font-size="11" fill="#6e7079" text-anchor="end" dominant-baseline="central">
<text transform="translate(377,1858) rotate(-45)">2025/02/08</text>
<text transform="translate(426.4,1858) rotate(-45)">2025/02/14</text>
<text transform="translate(475.8,1858) rotate(-45)">2025/02/28</text>
<text transform="translate(525.3,1858) rotate(-45)">2025/03/06</text>
<text transform="translate(574.7,1858) rotate(-45)">2025/03/12</text>
<text transform="translate(624.1,1858) rotate(-45)">2025/03/18</text>
<text transform="translate(673.5,1858) rotate(-45)">2025/03/28</text>
<text transform="translate(722.9,1858) rotate(-45)">2025/04/07</text>
<text transform="translate(772.4,1858) rotate(-45)">2025/04/17</text>
<text transform="translate(821.8,1858) rotate(-45)">2025/05/13</text>
<text transform="translate(871.2,1858) rotate(-45)">2025/05/21</text>
<text transform="translate(920.6,1858) rotate(-45)">2025/05/28</text>
<text transform="translate(970,1858) rotate(-45)">2025/06/04</text>
<text transform="translate(1019.5,1858) rotate(-45)">2025/06/24</text>
<text transform="translate(1068.9,1858) rotate(-45)">2025/07/02</text>
<text transform="translate(1118.3,1858) rotate(-45)">2025/07/08</text>
<text transform="translate(1167.7,1858) rotate(-45)">2025/07/23</text>
<text transform="translate(1217.1,1858) rotate(-45)">2025/07/29</text>
<text transform="translate(1266.6,1858) rotate(-45)">2025/08/05</text>
<text transform="translate(1316,1858) rotate(-45)">2025/08/13</text>
<text transform="translate(1365.4,1858) rotate(-45)">2025/08/19</text>
<text transform="translate(1414.8,1858) rotate(-45)">2025/08/27</text>
<text transform="translate(1464.2,1858) rotate(-45)">2025/09/02</text>
<text transform="translate(1513.7,1858) rotate(-45)">2025/09/08</text>
<text transform="translate(1563.1,1858) rotate(-45)">2025/09/12</text>
<text transform="translate(1612.5,1858) rotate(-45)">2025/09/18</text>
<text transform="translate(1661.9,1858) rotate(-45)">2025/09/24</text>
<text transform="translate(1711.3,1858) rotate(-45)">2025/09/29</text>
<text transform="translate(1760.8,1858) rotate(-45)">2025/10/13</text>
<text transform="translate(1810.2,1858) rotate(-45)">2025/10/20</text>
<text transform="translate(1859.6,1858) rotate(-45)">2025/10/24</text>
<text transform="translate(1909,1858) rotate(-45)">2025/10/30</text>
<text transform="translate(1958.4,1858) rotate(-45)">2025/11/05</text>
<text transform="translate(2007.9,1858) rotate(-45)">2025/11/11</text>
<text transform="translate(2057.3,1858) rotate(-45)">2025/11/20</text>
<text transform="translate(2106.7,1858) rotate(-45)">2025/11/25</text>
<text transform="translate(2156.1,1858) rotate(-45)">2025/12/01</text>
<text transform="translate(2205.5,1858) rotate(-45)">2025/12/10</text>
<text transform="translate(2255,1858) rotate(-45)">2025/12/16</text>
<text transform="translate(2304.4,1858) rotate(-45)">2025/12/22</text>
<text transform="translate(2353.8,1858) rotate(-45)">2025/12/26</text>
<text transform="translate(2403.2,1858) rotate(-45)">2025/12/31</text>
<text transform="translate(2452.6,1858) rotate(-45)">2026/01/07</text>
<text transform="translate(2502,1858) rotate(-45)">2026/01/09</text>
</g>
</svg>

<!-- watermark -->
<div class="a" style="left:2064px;top:1901px;font-size:38px;font-weight:700;font-style:italic;letter-spacing:8px;color:#a9a9a9;-webkit-text-stroke:1px #777">一颗大白菜 Ccxb.Net</div>

<!-- bottom strip -->
<div class="a" style="left:0;top:1948px;width:2560px;height:10px;background:#f2d9d9;border-top:1px solid #c8b4b4"></div>
</body></html>
